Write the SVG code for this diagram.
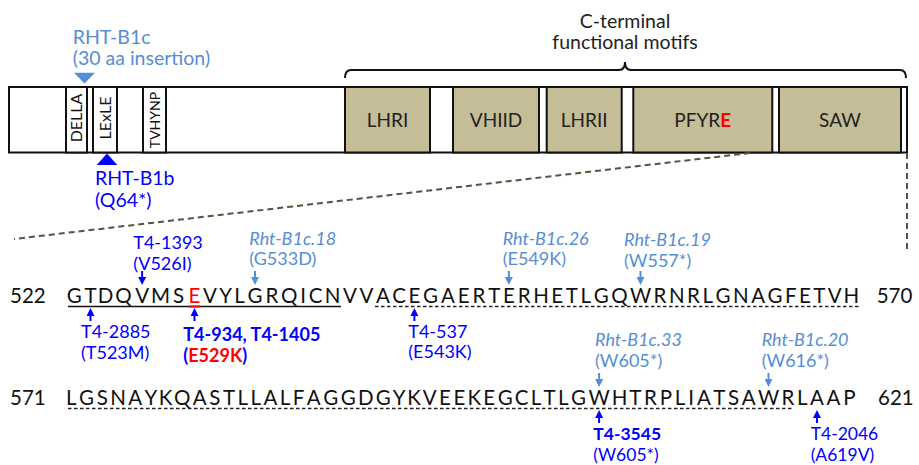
<svg xmlns="http://www.w3.org/2000/svg" width="919" height="465" viewBox="0 0 919 465">
<style>
text{font-family:Lato,"Liberation Sans",sans-serif}
.lb{fill:#558ED5;font-size:18px}
.db{fill:#0000FF;font-size:18px}
.tl{font-size:19.5px}
.it{font-style:italic}
.bd{font-weight:bold}
.seq{font-size:20.5px;fill:#111}
.num{font-size:20.5px;fill:#111}
.dom{font-size:19px;fill:#222;text-anchor:middle}
.rot{font-size:16px;fill:#111;text-anchor:middle}
.box{fill:#fff;stroke:#111;stroke-width:2}
.tan{fill:#C4BD97;stroke:#111;stroke-width:2}
.zoom{stroke:#55553F;stroke-width:2;stroke-dasharray:6 4;fill:none}
.dash{stroke:#222;stroke-width:1.3;stroke-dasharray:3.5 2.5;fill:none}
.ad{stroke:#0000FF;stroke-width:2;marker-end:url(#hD)}
.al{stroke:#558ED5;stroke-width:2;marker-end:url(#hL)}
</style>
<defs>
<marker id="hD" viewBox="0 0 8 8" refX="2" refY="4" markerWidth="8" markerHeight="8" markerUnits="userSpaceOnUse" orient="auto"><path d="M0,0 L8,4 L0,8 z" fill="#0000FF"/></marker>
<marker id="hL" viewBox="0 0 8 8" refX="2" refY="4" markerWidth="8" markerHeight="8" markerUnits="userSpaceOnUse" orient="auto"><path d="M0,0 L8,4 L0,8 z" fill="#558ED5"/></marker>
</defs>

<g id="protein">
<rect class="box" x="9" y="87" width="898" height="65.5"/>
<g id="della"><rect class="box" x="66" y="87" width="21" height="65.5"/><text class="rot" x="76.5" y="123.5" transform="rotate(-90 76.5 118)">DELLA</text></g>
<g id="lexle"><rect class="box" x="93" y="87" width="24" height="65.5"/><text class="rot" x="105" y="123.5" transform="rotate(-90 105 118)">LExLE</text></g>
<g id="tvhynp"><rect class="box" x="143" y="87" width="23" height="65.5"/><text class="rot" x="154.5" y="125" transform="rotate(-90 154.5 120)" style="font-size:14px">TVHYNP</text></g>
<g id="lhri"><rect class="tan" x="345" y="87" width="85" height="65.5"/><text class="dom" x="387.5" y="127">LHRI</text></g>
<g id="vhiid"><rect class="tan" x="453" y="87" width="86" height="65.5"/><text class="dom" x="496" y="127">VHIID</text></g>
<g id="lhrii"><rect class="tan" x="546.7" y="87" width="75" height="65.5"/><text class="dom" x="584.2" y="127">LHRII</text></g>
<g id="pfyre"><rect class="tan" x="633.3" y="87" width="139" height="65.5"/><text class="dom" x="702.8" y="127">PFYR<tspan fill="#FF0000" font-weight="bold">E</tspan></text></g>
<g id="saw"><rect class="tan" x="779" y="87" width="122" height="65.5"/><text class="dom" x="840" y="127">SAW</text></g>
</g>

<g id="cterm">
<path d="M345,78 Q345,70 351,70 L619,70 Q625,70 625,62 Q625,70 631,70 L900,70 Q906,70 906,78" fill="none" stroke="#111" stroke-width="2"/>
<text x="625" y="28" text-anchor="middle" style="font-size:19.5px;fill:#222">C-terminal</text>
<text x="625" y="49" text-anchor="middle" style="font-size:19.5px;fill:#222">functional motifs</text>
</g>

<g id="rhtb1c">
<polygon points="74,72.7 95,72.7 84.5,83.5" fill="#558ED5"/>
<text class="lb tl" x="72.7" y="44">RHT-B1c</text>
<text class="lb tl" x="72.7" y="65">(30 aa insertion)</text>
</g>
<g id="rhtb1b">
<polygon points="96.7,165 117.3,165 107,153.5" fill="#0000FF"/>
<text class="db tl" x="95" y="185">RHT-B1b</text>
<text class="db tl" x="95" y="206.5">(Q64*)</text>
</g>

<g id="connectors">
<line class="zoom" x1="750" y1="153" x2="14" y2="239"/>
<line class="zoom" x1="907" y1="153" x2="907" y2="249"/>
<line x1="68" y1="306.5" x2="341" y2="306.5" stroke="#111" stroke-width="1.5"/>
<line x1="189" y1="306.5" x2="200" y2="306.5" stroke="#FF0000" stroke-width="2"/>
<line class="dash" x1="375" y1="306.5" x2="860" y2="306.5"/>
<line class="dash" x1="68" y1="408.5" x2="794" y2="408.5"/>
<line class="ad" x1="142.1" y1="271" x2="142.1" y2="279"/>
<line class="al" x1="255" y1="271" x2="255" y2="279"/>
<line class="al" x1="508.9" y1="271" x2="508.9" y2="279"/>
<line class="al" x1="640.5" y1="271" x2="640.5" y2="279"/>
<line class="ad" x1="90.5" y1="321" x2="90.5" y2="314"/>
<line class="ad" x1="194.5" y1="321" x2="194.5" y2="314"/>
<line class="ad" x1="414.4" y1="321" x2="414.4" y2="314"/>
<line class="al" x1="599.1" y1="373" x2="599.1" y2="381"/>
<line class="al" x1="768.5" y1="373" x2="768.5" y2="381"/>
<line class="ad" x1="599.1" y1="423" x2="599.1" y2="416"/>
<line class="ad" x1="817" y1="423" x2="817" y2="416"/>
</g>

<g id="sequence">
<text class="num" x="10" y="302.7">522</text>
<text class="num" x="876.7" y="302.7">570</text>
<text class="num" x="10" y="405">571</text>
<text class="num" x="878" y="405">621</text>
<text class="seq" y="302.7" text-anchor="middle"><tspan x="74.2 90.5 105.5 123.5 142.1 160.5 178.5">GTDQVMS</tspan><tspan x="194.5" fill="#FF0000">E</tspan><tspan x="210 225.6 239.5 255 271.9 289.1 303.1 315.7 332.7 350 366.4 383 399.2 414.4 430.6 447.9 463.6 478.9 494.2 508.9 524.2 541 557.1 571.8 585.8 601.3 619.5 640.5 660 676.8 693.5 707.8 723.1 740.9 758.1 775.1 790.8 804.9 819.3 834.6 851.4">VYLGRQICNVVACEGAERTERHETLGQWRNRLGNAGFETVH</tspan></text>
<text class="seq" y="405" text-anchor="middle" x="71.2 86.5 102.2 118.1 135.3 150.8 165.6 182.3 199.7 214.9 229 242.7 255.7 270.4 285.1 298.5 313.6 330.7 348.3 365.7 383.2 399.2 414 429.7 445 459.5 474.3 489.1 505.2 521.7 535.9 549.6 563.3 578.6 599.1 619.5 635.4 650.5 665.8 679.9 691 703.9 719.3 733.5 748.6 768.5 788 802.3 817 833.5 849.3">LGSNAYKQASTLLALFAGGDGYKVEEKEGCLTLGWHTRPLIATSAWRLAAP</text>
</g>

<g id="labels">
<g id="t4-1393"><text class="db" x="133.3" y="249">T4-1393</text><text class="db" x="133.3" y="270">(V526I)</text></g>
<g id="b1c18"><text class="lb it" x="249.3" y="244.5">Rht-B1c.18</text><text class="lb" x="249.3" y="265">(G533D)</text></g>
<g id="b1c26"><text class="lb it" x="502.7" y="244.5">Rht-B1c.26</text><text class="lb" x="502.7" y="265">(E549K)</text></g>
<g id="b1c19"><text class="lb it" x="624" y="246">Rht-B1c.19</text><text class="lb" x="624" y="266.5">(W557*)</text></g>
<g id="t4-2885"><text class="db" x="81" y="338">T4-2885</text><text class="db" x="81" y="358.5">(T523M)</text></g>
<g id="t4-934"><text class="db bd" x="183.3" y="341">T4-934, T4-1405</text><text class="db bd" x="183.3" y="361.7">(<tspan fill="#FF0000">E529K</tspan>)</text></g>
<g id="t4-537"><text class="db" x="408.3" y="337.5">T4-537</text><text class="db" x="408.3" y="358">(E543K)</text></g>
<g id="b1c33"><text class="lb it" x="595" y="346">Rht-B1c.33</text><text class="lb" x="595" y="366.7">(W605*)</text></g>
<g id="b1c20"><text class="lb it" x="761.7" y="346">Rht-B1c.20</text><text class="lb" x="761.7" y="366.7">(W616*)</text></g>
<g id="t4-3545"><text class="db bd" x="593.3" y="439.5" style="font-size:17.5px">T4-3545</text><text class="db" x="593.3" y="460.5" style="font-size:17.5px">(W605*)</text></g>
<g id="t4-2046"><text class="db" x="810.7" y="439.5" style="font-size:17.5px">T4-2046</text><text class="db" x="810.7" y="460.5" style="font-size:17.5px">(A619V)</text></g>
</g>
</svg>
